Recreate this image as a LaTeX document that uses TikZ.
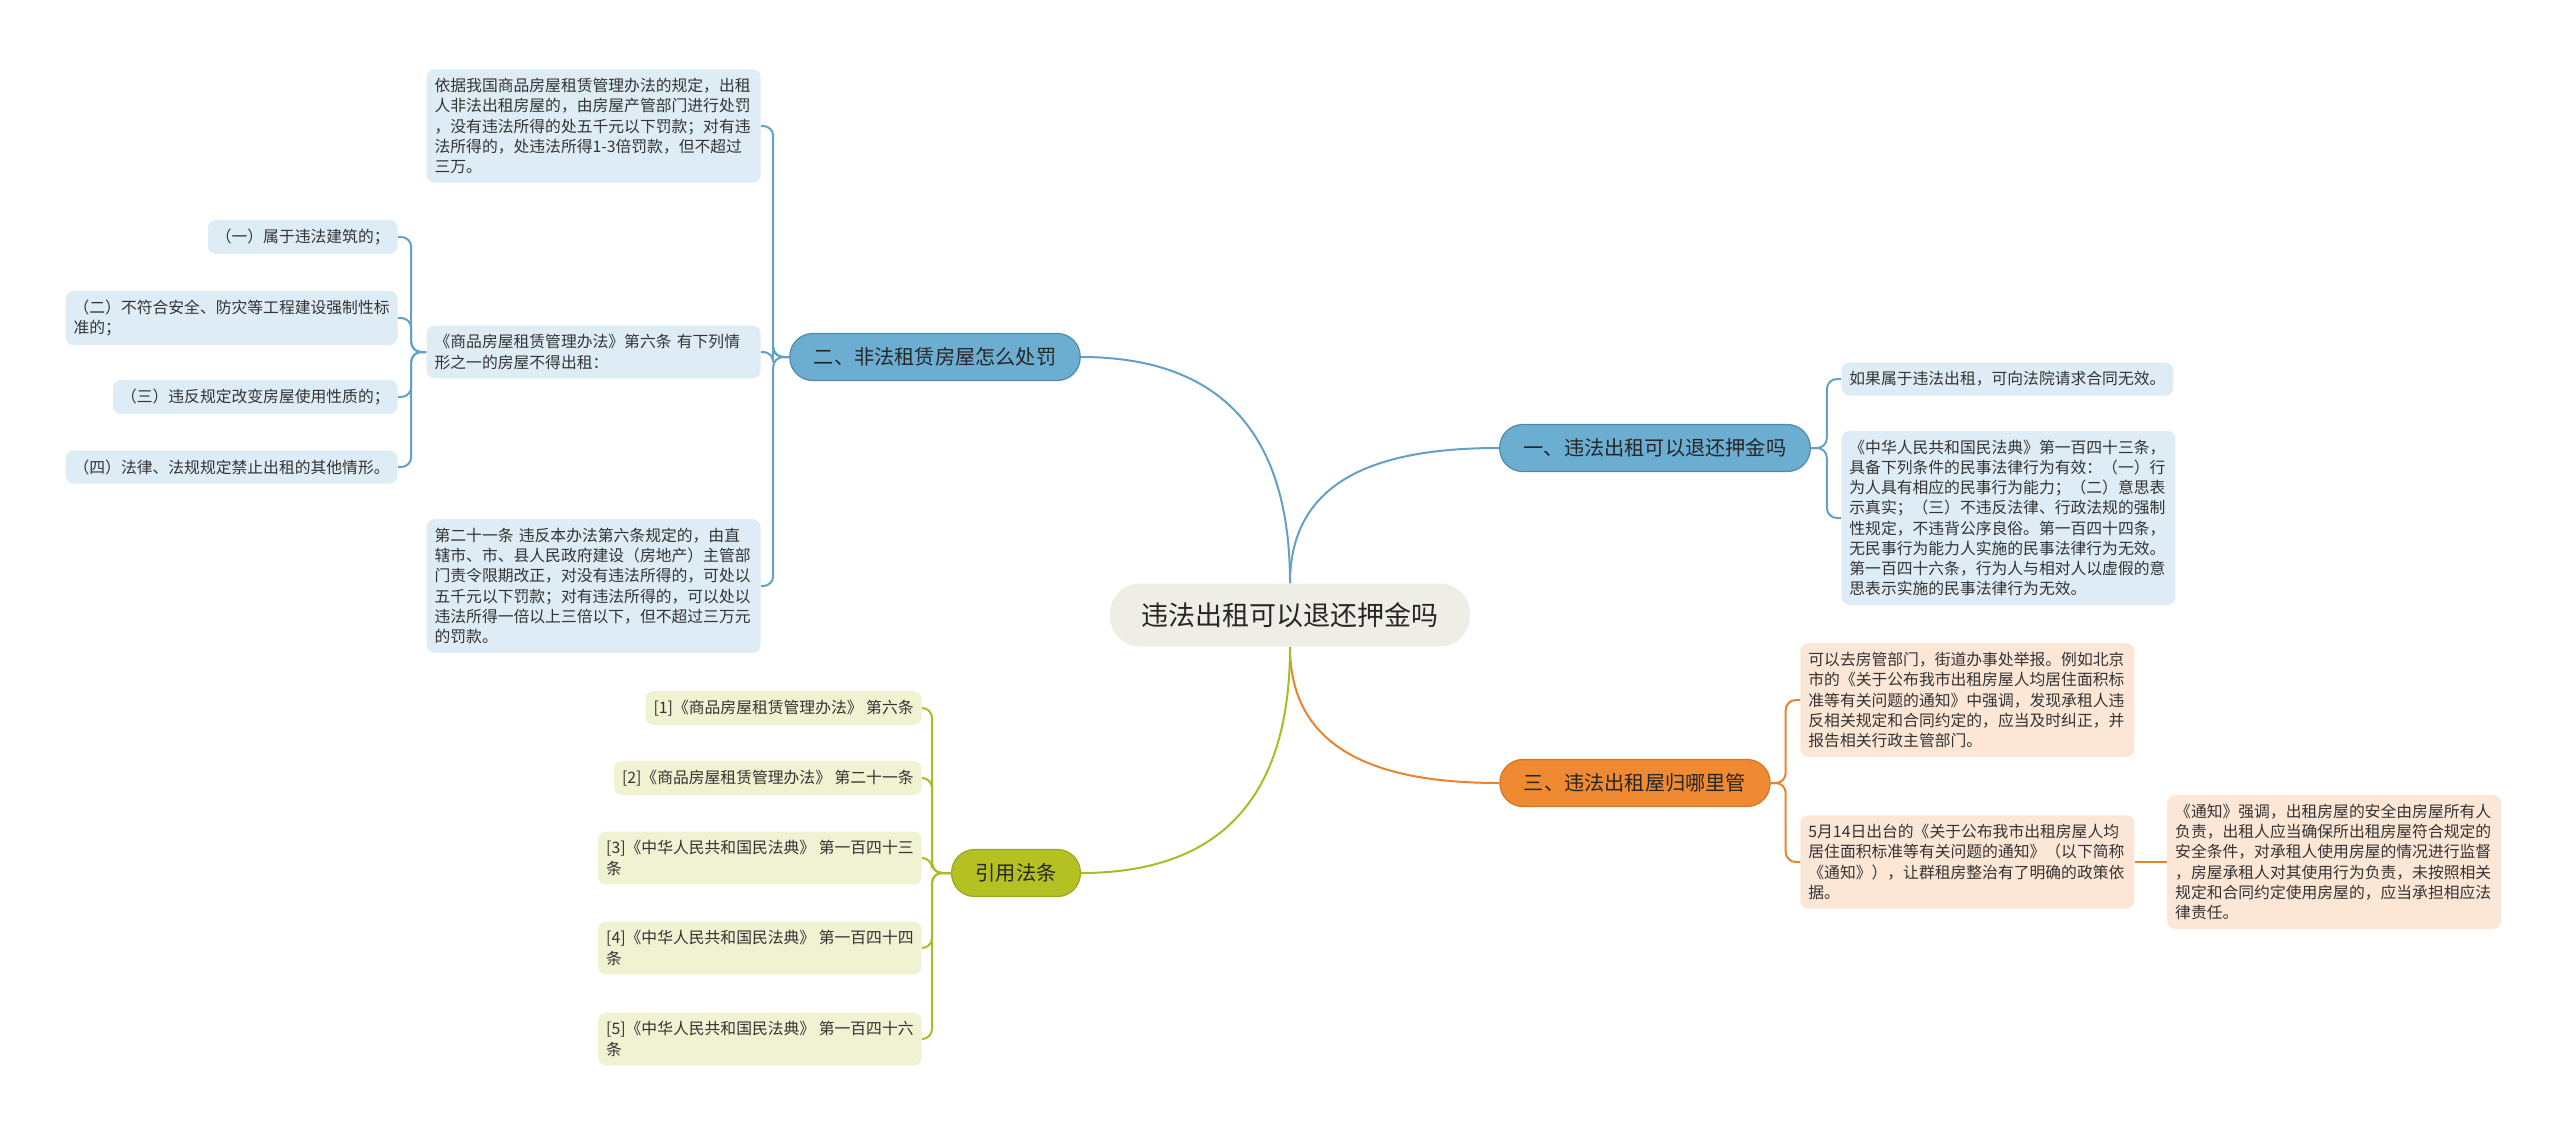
\documentclass[tikz,border=0pt]{standalone}
\usepackage{fontspec}
\setmainfont{Noto Sans CJK SC}
\usepackage{xcolor}
\usetikzlibrary{positioning}

\definecolor{blueline}{HTML}{62A1C5}
\definecolor{bluefill}{HTML}{6CAED2}
\definecolor{bluepale}{HTML}{DEEDF5}
\definecolor{orangeline}{HTML}{E8832E}
\definecolor{orangefill}{HTML}{EF8A33}
\definecolor{orangepale}{HTML}{FCE6D6}
\definecolor{greenline}{HTML}{A9BC27}
\definecolor{greenfill}{HTML}{B5C023}
\definecolor{greenpale}{HTML}{F0F2D2}
\definecolor{topicfill}{HTML}{EEEDE6}
\definecolor{inkgray}{HTML}{333333}

\begin{document}
\begin{tikzpicture}[
  x=0.5pt, y=-0.5pt,
  topic/.style={rectangle, rounded corners=15pt, fill=topicfill,
                minimum height=31.5pt, inner xsep=15.75pt, inner ysep=0pt,
                font=\fontsize{13.5pt}{16pt}\selectfont, text=black!85},
  branch/.style={rectangle, rounded corners=11.5pt, minimum height=23.5pt,
                 inner xsep=12pt, inner ysep=0pt, line width=0.6pt,
                 font=\fontsize{10.1pt}{12pt}\selectfont, text=black!85},
  bluebranch/.style={branch, fill=bluefill, draw=blueline!85!black},
  orangebranch/.style={branch, fill=orangefill, draw=orangeline!90!black},
  greenbranch/.style={branch, fill=greenfill, draw=greenline!90!black},
  leaf/.style={rectangle, rounded corners=4pt, inner xsep=4pt, inner ysep=4.5pt,
               align=left, font=\fontsize{7.9pt}{10.1pt}\selectfont, text=inkgray},
  wide/.style={text width=159pt},
  blueleaf/.style={leaf, fill=bluepale},
  orangeleaf/.style={leaf, fill=orangepale},
  greenleaf/.style={leaf, fill=greenpale},
  bluelink/.style={draw=blueline, line width=1pt, rounded corners=5pt},
  orangelink/.style={draw=orangeline, line width=1pt, rounded corners=5pt},
  greenlink/.style={draw=greenline, line width=1pt, rounded corners=5pt}
]
\useasboundingbox (0,0) rectangle (2560,1135);

% centre and main branches
\node[topic] (topic) at (1290,615) {违法出租可以退还押金吗};
\node[bluebranch] (punish) at (935,357) {二、非法租赁房屋怎么处罚};
\node[bluebranch] (deposit) at (1655,448) {一、违法出租可以退还押金吗};
\node[orangebranch] (manage) at (1635,783) {三、违法出租屋归哪里管};
\node[greenbranch] (law) at (1016,873) {引用法条};

% left side leaves
\node[blueleaf, wide, anchor=east] (penalty) at (761,126) {%
  依据我国商品房屋租赁管理办法的规定，出租\\人非法出租房屋的，由房屋产管部门进行处罚\\，没有违法所得的处五千元以下罚款；对有违\\法所得的，处违法所得1-3倍罚款，但不超过\\三万。};
\node[blueleaf, wide, anchor=east] (art6) at (761,352) {%
  《商品房屋租赁管理办法》第六条 有下列情\\形之一的房屋不得出租：};
\node[blueleaf, wide, anchor=east] (art21) at (761,586) {%
  第二十一条 违反本办法第六条规定的，由直\\辖市、市、县人民政府建设（房地产）主管部\\门责令限期改正，对没有违法所得的，可处以\\五千元以下罚款；对有违法所得的，可以处以\\违法所得一倍以上三倍以下，但不超过三万元\\的罚款。};
\node[blueleaf, anchor=east] (case1) at (398,237) {（一）属于违法建筑的；};
\node[blueleaf, anchor=east] (case2) at (398,318) {（二）不符合安全、防灾等工程建设强制性标\\准的；};
\node[blueleaf, anchor=east] (case3) at (398,397) {（三）违反规定改变房屋使用性质的；};
\node[blueleaf, anchor=east] (case4) at (398,467) {（四）法律、法规规定禁止出租的其他情形。};

% right side leaves
\node[blueleaf, anchor=west] (void) at (1841,379) {如果属于违法出租，可向法院请求合同无效。};
\node[blueleaf, wide, anchor=west] (civil) at (1841,518) {%
  《中华人民共和国民法典》第一百四十三条，\\具备下列条件的民事法律行为有效：（一）行\\为人具有相应的民事行为能力；（二）意思表\\示真实；（三）不违反法律、行政法规的强制\\性规定，不违背公序良俗。第一百四十四条，\\无民事行为能力人实施的民事法律行为无效。\\第一百四十六条，行为人与相对人以虚假的意\\思表示实施的民事法律行为无效。};
\node[orangeleaf, wide, anchor=west] (report) at (1800,700) {%
  可以去房管部门，街道办事处举报。例如北京\\市的《关于公布我市出租房屋人均居住面积标\\准等有关问题的通知》中强调，发现承租人违\\反相关规定和合同约定的，应当及时纠正，并\\报告相关行政主管部门。};
\node[orangeleaf, wide, anchor=west] (notice) at (1800,862) {%
  5月14日出台的《关于公布我市出租房屋人均\\居住面积标准等有关问题的通知》（以下简称\\《通知》），让群租房整治有了明确的政策依\\据。};
\node[orangeleaf, wide, right=16pt of notice] (duty) {%
  《通知》强调，出租房屋的安全由房屋所有人\\负责，出租人应当确保所出租房屋符合规定的\\安全条件，对承租人使用房屋的情况进行监督\\，房屋承租人对其使用行为负责，未按照相关\\规定和合同约定使用房屋的，应当承担相应法\\律责任。};

% cited articles
\node[greenleaf, anchor=east] (ref1) at (922,708) {[1]《商品房屋租赁管理办法》 第六条};
\node[greenleaf, anchor=east] (ref2) at (922,778) {[2]《商品房屋租赁管理办法》 第二十一条};
\node[greenleaf, anchor=east] (ref3) at (922,858) {[3]《中华人民共和国民法典》 第一百四十三\\条};
\node[greenleaf, anchor=east] (ref4) at (922,948) {[4]《中华人民共和国民法典》 第一百四十四\\条};
\node[greenleaf, anchor=east] (ref5) at (922,1039) {[5]《中华人民共和国民法典》 第一百四十六\\条};

% centre to branches
\draw[bluelink] (topic.north) .. controls +(0,-150) and +(140,0) .. (punish.east);
\draw[bluelink] (topic.north) .. controls +(0,-110) and +(-110,0) .. (deposit.west);
\draw[orangelink] (topic.south) .. controls +(0,110) and +(-110,0) .. (manage.west);
\draw[greenlink] (topic.south) .. controls +(0,150) and +(140,0) .. (law.east);

% branch brackets
\draw[bluelink] (punish.west) -- ++(-16,0) |- (penalty.east);
\draw[bluelink] (punish.west) -- ++(-16,0) |- (art6.east);
\draw[bluelink] (punish.west) -- ++(-16,0) |- (art21.east);
\draw[bluelink] (art6.west) -- ++(-15,0) |- (case1.east);
\draw[bluelink] (art6.west) -- ++(-15,0) |- (case2.east);
\draw[bluelink] (art6.west) -- ++(-15,0) |- (case3.east);
\draw[bluelink] (art6.west) -- ++(-15,0) |- (case4.east);
\draw[bluelink] (deposit.east) -- ++(16,0) |- (void.west);
\draw[bluelink] (deposit.east) -- ++(16,0) |- (civil.west);
\draw[orangelink] (manage.east) -- ++(15,0) |- (report.west);
\draw[orangelink] (manage.east) -- ++(15,0) |- (notice.west);
\draw[orangelink] (notice) -- (duty);
\draw[greenlink] (law.west) -- ++(-19,0) |- (ref1.east);
\draw[greenlink] (law.west) -- ++(-19,0) |- (ref2.east);
\draw[greenlink] (law.west) -- ++(-19,0) |- (ref3.east);
\draw[greenlink] (law.west) -- ++(-19,0) |- (ref4.east);
\draw[greenlink] (law.west) -- ++(-19,0) |- (ref5.east);

\end{tikzpicture}
\end{document}
